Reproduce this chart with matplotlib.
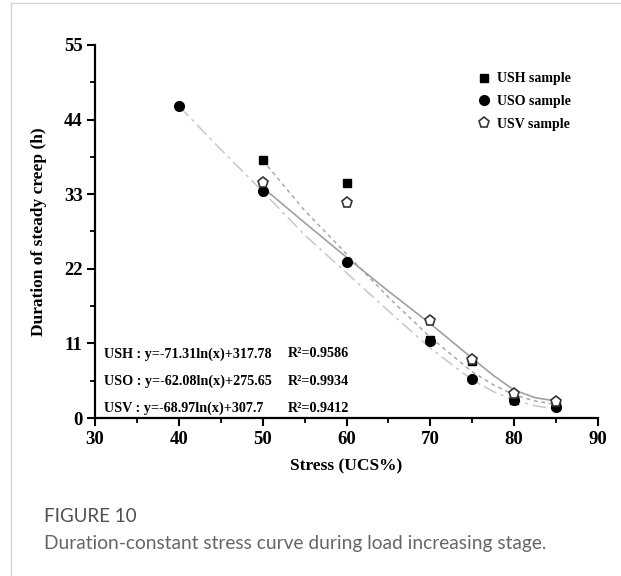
import numpy as np
import matplotlib
matplotlib.use("Agg")
import matplotlib.pyplot as plt
from matplotlib.lines import Line2D
from matplotlib.ticker import MultipleLocator

# measured creep durations (h) at each stress level (UCS%)
ush_x = [50, 60, 70, 75, 80, 85]
ush_y = [38.0, 34.6, 11.5, 8.4, 2.7, 1.8]
uso_x = [40, 50, 60, 70, 75, 80, 85]
uso_y = [46.0, 33.5, 23.0, 11.3, 5.7, 2.6, 1.6]
usv_x = [50, 60, 70, 75, 80, 85]
usv_y = [34.7, 31.7, 14.3, 8.6, 3.5, 2.4]

# fitted trend curves
ush_fit_x = [50, 55, 60, 65, 70, 75, 77.5, 80, 82.5, 85]
ush_fit_y = [38.0, 30.6, 24.2, 17.8, 11.9, 6.8, 4.9, 3.4, 2.5, 2.0]
uso_fit_x = [40, 45, 50, 55, 60, 65, 70, 75, 77.5, 80, 82.5, 85]
uso_fit_y = [46.0, 39.6, 33.4, 27.0, 21.4, 15.8, 10.3, 5.6, 3.9, 2.6, 1.8, 1.3]
usv_fit_x = [50, 55, 60, 65, 70, 75, 77.5, 80, 82.5, 85]
usv_fit_y = [34.0, 28.8, 23.7, 18.7, 13.9, 8.8, 6.3, 4.1, 3.0, 2.5]

fit_labels = ["USH : y=-71.31ln(x)+317.78", "USO : y=-62.08ln(x)+275.65", "USV : y=-68.97ln(x)+307.7"]
r2_labels = ["R²=0.9586", "R²=0.9934", "R²=0.9412"]

serif = "Liberation Serif"

fig = plt.figure(figsize=(6.21, 5.76), dpi=100)
ax = fig.add_axes([0.153, 0.2743, 0.810, 0.6476])

ax.plot(ush_fit_x, ush_fit_y, color="#a8a8a8", lw=1.1, ls=(0, (2.5, 2.5)), zorder=1)
ax.plot(uso_fit_x, uso_fit_y, color="#c8c8c8", lw=1.1, ls=(0, (9, 3, 2, 3)), zorder=1)
ax.plot(usv_fit_x, usv_fit_y, color="#a0a0a0", lw=1.2, ls="-", zorder=1)

ax.plot(ush_x, ush_y, ls="none", marker="s", ms=6, color="black", label="USH sample", zorder=3)
ax.plot(uso_x, uso_y, ls="none", marker="o", ms=7, color="black", label="USO sample", zorder=3)
ax.plot(usv_x, usv_y, ls="none", marker="p", ms=8, mfc="white", mec="#333333", mew=1.2,
        label="USV sample", zorder=4)

ax.set_xlim(30, 90)
ax.set_ylim(0, 55)
ax.xaxis.set_major_locator(MultipleLocator(10))
ax.xaxis.set_minor_locator(MultipleLocator(5))
ax.yaxis.set_major_locator(MultipleLocator(11))
ax.yaxis.set_minor_locator(MultipleLocator(5.5))

for side in ["top", "right"]:
    ax.spines[side].set_visible(False)
for side in ["left", "bottom"]:
    ax.spines[side].set_linewidth(1.6)
ax.tick_params(which="major", direction="out", length=6, width=1.5, labelsize=13.5, pad=3)
ax.tick_params(which="minor", direction="out", length=3.5, width=1.3)
for lab in ax.get_xticklabels() + ax.get_yticklabels():
    lab.set_fontfamily(serif)
    lab.set_fontweight("bold")

ax.set_xlabel("Stress (UCS%)", fontfamily=serif, fontweight="bold", fontsize=12.5, labelpad=8)
ax.set_ylabel("Duration of steady creep (h)", fontfamily=serif, fontweight="bold", fontsize=12.5,
              labelpad=12)

leg = ax.legend(loc="upper right", bbox_to_anchor=(0.97, 0.96), frameon=False,
                prop={"family": serif, "weight": "bold", "size": 10},
                handletextpad=0.4, labelspacing=0.7, handlelength=1.0)

for i, (eq, r2) in enumerate(zip(fit_labels, r2_labels)):
    y = 0.172 - i * 0.073
    ax.text(0.018, y, eq, transform=ax.transAxes, fontfamily=serif, fontweight="bold",
            fontsize=10.2, va="center", ha="left")
    ax.text(0.383, y, r2, transform=ax.transAxes, fontfamily=serif, fontweight="bold",
            fontsize=10.2, va="center", ha="left")

# page frame and caption
fig.add_artist(Line2D([11 / 621, 11 / 621], [0, 1 - 3 / 576], transform=fig.transFigure,
                      color="#d4d4d4", lw=1.0))
fig.add_artist(Line2D([11 / 621, 1], [1 - 3 / 576, 1 - 3 / 576], transform=fig.transFigure,
                      color="#d4d4d4", lw=1.0))
fig.text(44 / 621, 1 - 517 / 576, "FIGURE 10", fontfamily="Lato", fontsize=13.5,
         color="#505050", va="center", ha="left")
fig.text(44 / 621, 1 - 543 / 576, "Duration-constant stress curve during load increasing stage.",
         fontfamily="Lato", fontsize=13.8, color="#666666", va="center", ha="left")

fig.savefig("out.png", dpi=100)
